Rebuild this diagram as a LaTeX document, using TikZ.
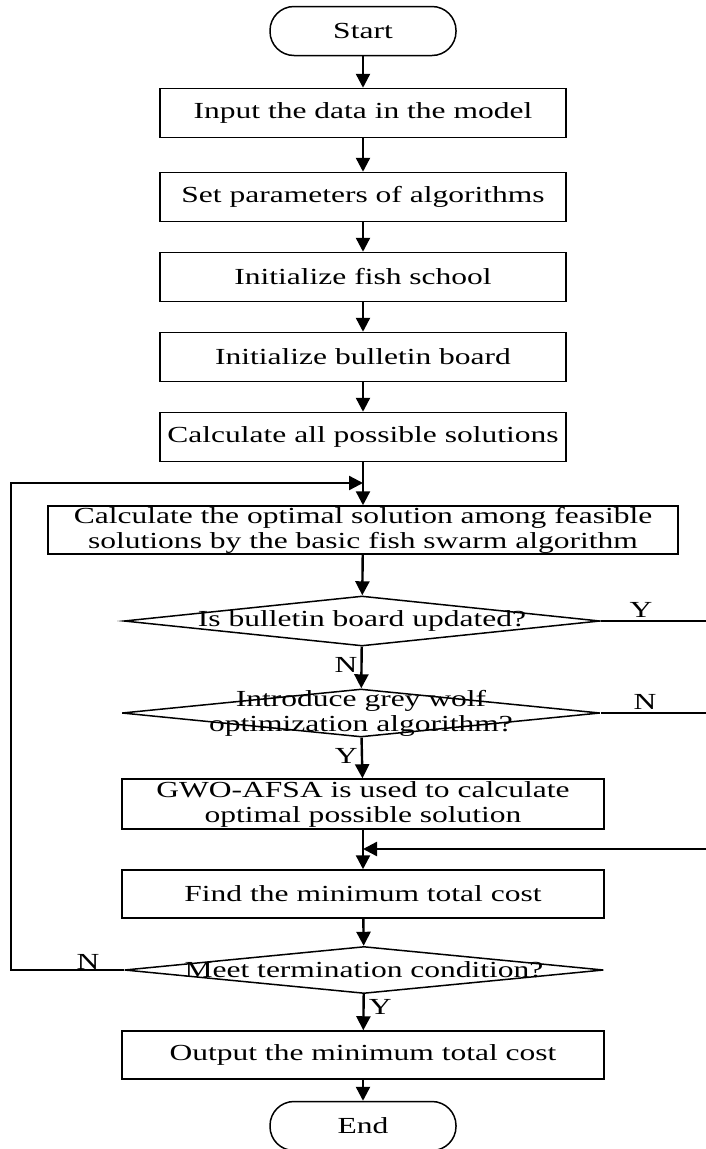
\documentclass[tikz,border=0pt]{standalone}
\usepackage{fontspec}
\setmainfont{Liberation Serif}[FakeStretch=1.37]
\usetikzlibrary{arrows.meta,shapes.geometric}
\tikzset{
  blk/.style={draw, line width=1.5pt, minimum height=49pt, inner sep=0pt, align=center},
  trm/.style={draw, line width=1.5pt, rounded corners=24pt, minimum width=186pt, minimum height=49pt},
  dec/.style={draw, diamond, line width=1.5pt, inner sep=0pt},
  flw/.style={-{Triangle[length=14pt,width=14pt]}, line width=2.4pt},
  lbl/.style={inner sep=0pt},
}

\begin{document}
\begin{tikzpicture}[x=1pt,y=-1pt,every node/.style={font=\fontsize{23}{25}\selectfont}]
  \clip (0,0) rectangle (706,1149);
  % --- main column ---
  \node[trm] (start) at (363,31) {Start};
  \node[blk, minimum width=406pt] (input) at (363,113) {Input the data in the model};
  \node[blk, minimum width=406pt] (param) at (363,197) {Set parameters of algorithms};
  \node[blk, minimum width=406pt] (fish) at (363,277) {Initialize fish school};
  \node[blk, minimum width=406pt] (board) at (363,357) {Initialize bulletin board};
  \node[blk, minimum width=406pt] (allsol) at (363,437) {Calculate all possible solutions};
  \node[blk, minimum width=630pt, minimum height=48pt] (optim) at (363,530)
    {Calculate the optimal solution among feasible\\solutions by the basic fish swarm algorithm};
  \node[dec, minimum width=476pt, minimum height=50pt,
        label={[lbl]center:Is bulletin board updated?}] (upd) at (362,621) {};
  \node[dec, minimum width=478pt, minimum height=48pt,
        label={[lbl,align=center]center:{Introduce grey wolf\\optimization algorithm?}}] (gwo) at (361,713) {};
  \node[blk, minimum width=482pt, minimum height=50pt] (hyb) at (363,804)
    {GWO-AFSA is used to calculate\\optimal possible solution};
  \node[blk, minimum width=482pt, minimum height=48pt] (mincost) at (363,894) {Find the minimum total cost};
  \node[dec, minimum width=479pt, minimum height=47pt,
        label={[lbl]center:Meet termination condition?}] (term) at (364,970) {};
  \node[blk, minimum width=482pt, minimum height=48pt] (output) at (363,1055) {Output the minimum total cost};
  \node[trm] (end) at (363,1126) {End};

  % --- junction points ---
  \coordinate (loopin) at (363,483);
  \coordinate (merge) at (363,849);

  % --- straight flow ---
  \draw[flw] (start) -- (input);
  \draw[flw] (input) -- (param);
  \draw[flw] (param) -- (fish);
  \draw[flw] (fish) -- (board);
  \draw[flw] (board) -- (allsol);
  \draw[flw] (allsol) -- (optim);
  \draw[flw] (optim) -- (upd);
  \draw[flw] (upd) -- node[lbl, left=3pt, pos=0.45] (updN) {N} (gwo);
  \draw[flw] (gwo) -- node[lbl, left=3pt, pos=0.45] (gwoY) {Y} (hyb);
  \draw[flw] (hyb) -- (mincost);
  \draw[flw] (mincost) -- (term);
  \draw[flw] (term) -- node[lbl, right=4pt, pos=0.35] (termY) {Y} (output);
  \draw[flw] (output) -- (end);

  % --- loops ---
  \draw[flw] (term.west) -- (11,970) |- (loopin);
  \node[lbl] (termN) at (88,962) {N};
  \draw[flw] (upd.east) -- (709,621) |- (merge);
  \draw[line width=2.4pt] (gwo.east) -- (709,713);
  \node[lbl] (updY) at (641,610) {Y};
  \node[lbl] (gwoN) at (645,702) {N};
\end{tikzpicture}
\end{document}
